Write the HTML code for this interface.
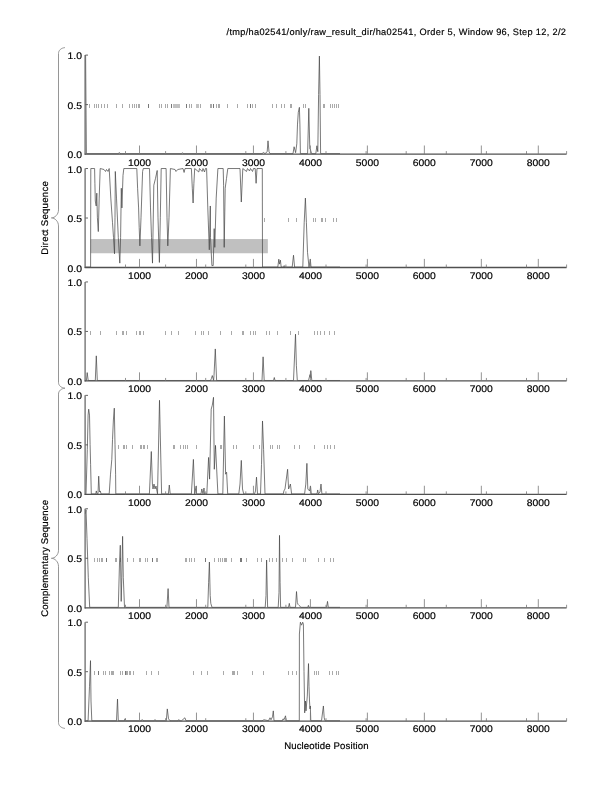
<!DOCTYPE html>
<html><head><meta charset="utf-8"><title>Nucleotide plot</title>
<style>
html,body{margin:0;padding:0;background:#fff;}
svg{display:block;}
text{font-family:"Liberation Sans",Arial,sans-serif;fill:#000;stroke:#000;stroke-width:0.18px;text-rendering:geometricPrecision;}
.t{font-size:9.6px;}
</style></head><body>
<svg width="612" height="792" viewBox="0 0 612 792">
<rect width="612" height="792" fill="#fff"/>
<text x="226.5" y="35.4" font-size="9.2" letter-spacing="0.326" id="title">/tmp/ha02541/only/raw_result_dir/ha02541, Order 5, Window 96, Step 12, 2/2</text>
<rect x="90.6" y="239.05" width="177.25" height="14.2" fill="#c0c0c0"/>
<path d="M89.5 104v4M94.5 104v4M96.5 104v4M98.5 104v4M101.5 104v4M104.5 104v4M107.5 104v4M116.5 104v4M122.5 104v4M129.5 104v4M132.5 104v4M134.5 104v4M136.5 104v4M138.5 104v4M139.5 104v4M159.5 104v4M161.5 104v4M165.5 104v4M167.5 104v4M189.5 104v4M191.5 104v4M200.5 104v4M210.5 104v4M211.5 104v4M216.5 104v4M218.5 104v4M219.5 104v4M227.5 104v4M237.5 104v4M247.5 104v4M252.5 104v4M255.5 104v4M272.5 104v4M276.5 104v4M281.5 104v4M284.5 104v4M290.5 104v4M291.5 104v4M303.5 104v4M305.5 104v4M323.5 104v4M324.5 104v4M330.5 104v4M332.5 104v4M334.5 104v4M336.5 104v4M338.5 104v4" stroke="#aaa" stroke-width="1" fill="none"/>
<path d="M173.5 104v4M174.5 104v4M175.5 104v4M176.5 104v4M177.5 104v4M178.5 104v4M179.5 104v4M196.5 104v4M197.5 104v4M198.5 104v4" stroke="#c2c2c2" stroke-width="1" fill="none"/>
<path d="M148.5 104v4M171.5 104v4M186.5 104v4M213.5 104v4M250.5 104v4" stroke="#777" stroke-width="1" fill="none"/>
<path d="M85.6 55.1 L86.4 153.65 L118.6 153.65 L119.3 152.47 L120 153.65 L181.8 153.65 L182.5 152.66 L183.2 153.65 L262 153.65 L263.5 152.47 L265 153.65 L267.2 151.68 L268 140.84 L269 151.68 L270 153.65 L293 153.65 L294.1 146.75 L295.6 152.66 L296.8 143.8 L297.5 124.09 L298.3 112.26 L299.4 107.33 L299.9 124.09 L300.4 153.65 L307.6 153.65 L308.8 108.32 L309.8 148.72 L310.3 149.22 L311.6 153.65 L315.8 153.65 L316.9 145.77 L317.8 151.68 L318.6 94.52 L319.4 56.09 L320 94.52 L320.6 153.65 L340 153.65" stroke="#464646" stroke-width="0.72" fill="none" stroke-linejoin="round"/>
<path d="M85.1 55.1V154.7" stroke="#6a6a6a" stroke-width="1.3" fill="none"/>
<path d="M84.7 154.1H566.6" stroke="#505050" stroke-width="1.3" fill="none"/>
<path d="M85.4 55.1h2.6M85.4 104.6h2.6" stroke="#555" stroke-width="0.9"/>
<path d="M139.5 154.1v-8.6M196.47 154.1v-8.6M253.44 154.1v-8.6M310.41 154.1v-8.6M367.38 154.1v-8.6M424.36 154.1v-8.6M481.33 154.1v-8.6M538.3 154.1v-8.6" stroke="#777" stroke-width="0.8"/>
<path d="M125.5 154.1v-3M165.6 154.1v-3M205.7 154.1v-3M245.8 154.1v-3M285.9 154.1v-3M326 154.1v-3M366.1 154.1v-3M406.2 154.1v-3M446.3 154.1v-3M486.4 154.1v-3M526.5 154.1v-3M566.6 154.1v-3" stroke="#777" stroke-width="0.8"/>
<text class="t" transform="translate(82 59.1) scale(1.08 1)" text-anchor="end">1.0</text>
<text class="t" transform="translate(82 108.6) scale(1.08 1)" text-anchor="end">0.5</text>
<text class="t" transform="translate(82 158.1) scale(1.08 1)" text-anchor="end">0.0</text>
<text class="t" transform="translate(139.5 165.8) scale(1.08 1)" text-anchor="middle">1000</text>
<text class="t" transform="translate(196.47 165.8) scale(1.08 1)" text-anchor="middle">2000</text>
<text class="t" transform="translate(253.44 165.8) scale(1.08 1)" text-anchor="middle">3000</text>
<text class="t" transform="translate(310.41 165.8) scale(1.08 1)" text-anchor="middle">4000</text>
<text class="t" transform="translate(367.38 165.8) scale(1.08 1)" text-anchor="middle">5000</text>
<text class="t" transform="translate(424.36 165.8) scale(1.08 1)" text-anchor="middle">6000</text>
<text class="t" transform="translate(481.33 165.8) scale(1.08 1)" text-anchor="middle">7000</text>
<text class="t" transform="translate(538.3 165.8) scale(1.08 1)" text-anchor="middle">8000</text>
<path d="M264.5 218v4M288.5 218v4M296.5 218v4M313.5 218v4M315.5 218v4M321.5 218v4M322.5 218v4M325.5 218v4M333.5 218v4M336.5 218v4" stroke="#aaa" stroke-width="1" fill="none"/>
<path d="M85.4 267.07 L90.6 267.07 L90.8 168.52 L94.6 168.52 L94.9 183.3 L95.3 201.04 L96.2 205.97 L96.8 193.16 L97.4 217.79 L98.3 231.59 L99.2 198.08 L100.2 168.52 L104 169.51 L105.5 171.48 L106.5 169.51 L108 171.48 L109.2 168.52 L110.8 198.08 L112.5 222.72 L113.5 237.5 L114.5 253.77 L115 217.79 L115.3 171.48 L116.5 198.08 L118.3 237.5 L119.8 263.13 L120.6 237.5 L121.3 188.23 L121.9 207.94 L123 175.42 L123.8 168.52 L136.8 168.52 L137.6 188.23 L138.6 207.94 L139.2 227.65 L139.9 245.88 L141 217.79 L142.6 171.48 L143.3 168.52 L149.5 168.52 L150.5 207.94 L151.5 237.5 L152.5 263.13 L153.8 185.27 L155.5 178.38 L157.2 170.49 L158 217.79 L159.4 262.44 L160.3 217.79 L161.2 168.52 L166.1 168.52 L167 217.79 L167.8 245.88 L169 217.79 L170.4 168.52 L175 169.51 L176 171.48 L177.7 169.51 L183 168.52 L184.1 172.46 L185 168.52 L191.4 168.52 L192.3 188.23 L193.1 203.01 L193.9 183.3 L194.7 168.52 L198.8 171.97 L199.5 168.52 L202.1 171.48 L203 168.52 L204.5 171.97 L205.5 168.52 L206.6 168.52 L207.8 207.94 L209.3 249.82 L210.3 205.97 L210.5 237.5 L211.9 265.59 L213.2 265.59 L214.2 228.64 L214.8 247.36 L216.2 198.08 L217.9 168.52 L223.2 168.52 L223.6 185.27 L224.2 247.36 L225.2 188.23 L226.5 178.38 L227.8 168.52 L240 168.52 L241.3 202.03 L242.8 168.52 L246.5 171.48 L247.5 168.52 L249.5 170.98 L250.5 168.52 L252.5 171.48 L253.5 168.52 L255.2 168.52 L256.1 183.3 L257 168.52 L262.3 168.52 L262.5 267.07 L277.8 267.07 L278.8 259.19 L279.5 264.11 L280.4 260.17 L281.2 267.07 L283.5 267.07 L284.2 265.59 L285 267.07 L292.2 267.07 L293.5 255.24 L294.6 267.07 L302.8 267.07 L304.2 222.72 L305.4 198.08 L306.4 222.72 L307.5 252.29 L309 267.07 L310.3 259.19 L311 267.07 L340 267.07" stroke="#464646" stroke-width="0.72" fill="none" stroke-linejoin="round"/>
<path d="M85.1 168.52V268.12" stroke="#6a6a6a" stroke-width="1.3" fill="none"/>
<path d="M84.7 267.52H566.6" stroke="#505050" stroke-width="1.3" fill="none"/>
<path d="M85.4 168.52h2.6M85.4 218.02h2.6" stroke="#555" stroke-width="0.9"/>
<path d="M139.5 267.52v-8.6M196.47 267.52v-8.6M253.44 267.52v-8.6M310.41 267.52v-8.6M367.38 267.52v-8.6M424.36 267.52v-8.6M481.33 267.52v-8.6M538.3 267.52v-8.6" stroke="#777" stroke-width="0.8"/>
<path d="M125.5 267.52v-3M165.6 267.52v-3M205.7 267.52v-3M245.8 267.52v-3M285.9 267.52v-3M326 267.52v-3M366.1 267.52v-3M406.2 267.52v-3M446.3 267.52v-3M486.4 267.52v-3M526.5 267.52v-3M566.6 267.52v-3" stroke="#777" stroke-width="0.8"/>
<text class="t" transform="translate(82 172.52) scale(1.08 1)" text-anchor="end">1.0</text>
<text class="t" transform="translate(82 222.02) scale(1.08 1)" text-anchor="end">0.5</text>
<text class="t" transform="translate(82 271.52) scale(1.08 1)" text-anchor="end">0.0</text>
<text class="t" transform="translate(139.5 279.04) scale(1.08 1)" text-anchor="middle">1000</text>
<text class="t" transform="translate(196.47 279.04) scale(1.08 1)" text-anchor="middle">2000</text>
<text class="t" transform="translate(253.44 279.04) scale(1.08 1)" text-anchor="middle">3000</text>
<text class="t" transform="translate(310.41 279.04) scale(1.08 1)" text-anchor="middle">4000</text>
<text class="t" transform="translate(367.38 279.04) scale(1.08 1)" text-anchor="middle">5000</text>
<text class="t" transform="translate(424.36 279.04) scale(1.08 1)" text-anchor="middle">6000</text>
<text class="t" transform="translate(481.33 279.04) scale(1.08 1)" text-anchor="middle">7000</text>
<text class="t" transform="translate(538.3 279.04) scale(1.08 1)" text-anchor="middle">8000</text>
<path d="M90.5 331v4M100.5 331v4M116.5 331v4M122.5 331v4M123.5 331v4M126.5 331v4M136.5 331v4M139.5 331v4M140.5 331v4M143.5 331v4M165.5 331v4M171.5 331v4M178.5 331v4M195.5 331v4M201.5 331v4M203.5 331v4M208.5 331v4M220.5 331v4M231.5 331v4M242.5 331v4M243.5 331v4M250.5 331v4M253.5 331v4M255.5 331v4M266.5 331v4M269.5 331v4M277.5 331v4M290.5 331v4M298.5 331v4M314.5 331v4M317.5 331v4M320.5 331v4M324.5 331v4M329.5 331v4M334.5 331v4" stroke="#aaa" stroke-width="1" fill="none"/>
<path d="M85.4 380.49 L86.4 380.49 L87.2 372.61 L88.2 380.49 L95.3 380.49 L96.3 355.85 L97.3 380.49 L210.5 380.49 L211.4 378.52 L212.3 375.56 L213.6 380.49 L214 375.56 L215.3 348.95 L216.6 380.49 L262 380.49 L263.1 356.84 L264.2 380.49 L273.5 380.49 L274.3 377.53 L275 380.49 L293.5 380.49 L295.5 334.17 L296.4 365.71 L297.3 380.49 L308.5 380.49 L310 374.58 L310.5 377.53 L310.8 370.63 L311.8 380.49 L340 380.49" stroke="#464646" stroke-width="0.72" fill="none" stroke-linejoin="round"/>
<path d="M85.1 281.94V381.54" stroke="#6a6a6a" stroke-width="1.3" fill="none"/>
<path d="M84.7 380.94H566.6" stroke="#505050" stroke-width="1.3" fill="none"/>
<path d="M85.4 281.94h2.6M85.4 331.44h2.6" stroke="#555" stroke-width="0.9"/>
<path d="M139.5 380.94v-8.6M196.47 380.94v-8.6M253.44 380.94v-8.6M310.41 380.94v-8.6M367.38 380.94v-8.6M424.36 380.94v-8.6M481.33 380.94v-8.6M538.3 380.94v-8.6" stroke="#777" stroke-width="0.8"/>
<path d="M125.5 380.94v-3M165.6 380.94v-3M205.7 380.94v-3M245.8 380.94v-3M285.9 380.94v-3M326 380.94v-3M366.1 380.94v-3M406.2 380.94v-3M446.3 380.94v-3M486.4 380.94v-3M526.5 380.94v-3M566.6 380.94v-3" stroke="#777" stroke-width="0.8"/>
<text class="t" transform="translate(82 285.94) scale(1.08 1)" text-anchor="end">1.0</text>
<text class="t" transform="translate(82 335.44) scale(1.08 1)" text-anchor="end">0.5</text>
<text class="t" transform="translate(82 384.94) scale(1.08 1)" text-anchor="end">0.0</text>
<text class="t" transform="translate(139.5 392.28) scale(1.08 1)" text-anchor="middle">1000</text>
<text class="t" transform="translate(196.47 392.28) scale(1.08 1)" text-anchor="middle">2000</text>
<text class="t" transform="translate(253.44 392.28) scale(1.08 1)" text-anchor="middle">3000</text>
<text class="t" transform="translate(310.41 392.28) scale(1.08 1)" text-anchor="middle">4000</text>
<text class="t" transform="translate(367.38 392.28) scale(1.08 1)" text-anchor="middle">5000</text>
<text class="t" transform="translate(424.36 392.28) scale(1.08 1)" text-anchor="middle">6000</text>
<text class="t" transform="translate(481.33 392.28) scale(1.08 1)" text-anchor="middle">7000</text>
<text class="t" transform="translate(538.3 392.28) scale(1.08 1)" text-anchor="middle">8000</text>
<path d="M118.5 445v4M123.5 445v4M124.5 445v4M126.5 445v4M132.5 445v4M140.5 445v4M141.5 445v4M143.5 445v4M144.5 445v4M147.5 445v4M173.5 445v4M174.5 445v4M180.5 445v4M183.5 445v4M185.5 445v4M187.5 445v4M196.5 445v4M215.5 445v4M220.5 445v4M221.5 445v4M233.5 445v4M236.5 445v4M253.5 445v4M259.5 445v4M270.5 445v4M272.5 445v4M277.5 445v4M279.5 445v4M294.5 445v4M299.5 445v4M314.5 445v4M324.5 445v4M327.5 445v4M330.5 445v4M334.5 445v4" stroke="#aaa" stroke-width="1" fill="none"/>
<path d="M85.4 493.91 L86 493.91 L87.3 449.56 L88.1 415.07 L88.7 409.16 L89.5 415.07 L90.1 444.64 L90.6 464.35 L91.3 493.91 L95.8 493.91 L96.3 490.95 L97 493.91 L98 493.91 L98.7 476.17 L99.5 491.94 L100.3 490.95 L101 493.91 L109.2 493.91 L110.5 474.2 L111.8 459.42 L112.5 439.71 L113.4 420 L114.3 408.17 L115 444.64 L115.6 474.2 L115.8 493.91 L149.4 493.91 L151.3 451.53 L152.4 484.06 L153 488.98 L154 484.06 L155 488.98 L156 486.03 L157.5 493.91 L159.5 400.29 L161.6 493.91 L168.4 493.91 L169.3 485.04 L170.2 493.91 L191.4 493.91 L193.4 459.42 L194.7 493.91 L196.2 486.03 L196.5 493.91 L201 493.91 L201.8 488.98 L203 493.91 L204 488 L204.5 493.91 L206.8 493.91 L208.6 457.45 L209.6 479.13 L211.2 409.16 L212.3 405.22 L213.5 397.33 L214.3 469.27 L215.5 445.62 L217.9 493.91 L222.8 493.91 L224.4 416.06 L225.6 474.2 L226.6 472.23 L227.7 493.91 L238.8 493.91 L240 484.06 L241.3 460.4 L242.5 488.98 L243.7 493.91 L254.5 493.91 L255.5 490.95 L256.5 477.16 L257.5 493.91 L260.5 493.91 L261.5 464.35 L262.5 420.98 L263.6 449.56 L265 493.91 L283.3 493.91 L283.9 490.95 L285 488.98 L287.6 469.27 L288.6 488.98 L289.8 486.03 L290.4 484.06 L291.6 493.91 L304.6 493.91 L305.8 484.06 L306.9 463.36 L307.8 488.98 L309.5 490.95 L310.5 486.03 L311.3 493.91 L317 493.91 L317.7 489.97 L318.4 493.91 L320 491.94 L321 484.06 L321.9 493.91 L340 493.91" stroke="#464646" stroke-width="0.72" fill="none" stroke-linejoin="round"/>
<path d="M85.1 395.36V494.96" stroke="#6a6a6a" stroke-width="1.3" fill="none"/>
<path d="M84.7 494.36H566.6" stroke="#505050" stroke-width="1.3" fill="none"/>
<path d="M85.4 395.36h2.6M85.4 444.86h2.6" stroke="#555" stroke-width="0.9"/>
<path d="M139.5 494.36v-8.6M196.47 494.36v-8.6M253.44 494.36v-8.6M310.41 494.36v-8.6M367.38 494.36v-8.6M424.36 494.36v-8.6M481.33 494.36v-8.6M538.3 494.36v-8.6" stroke="#777" stroke-width="0.8"/>
<path d="M125.5 494.36v-3M165.6 494.36v-3M205.7 494.36v-3M245.8 494.36v-3M285.9 494.36v-3M326 494.36v-3M366.1 494.36v-3M406.2 494.36v-3M446.3 494.36v-3M486.4 494.36v-3M526.5 494.36v-3M566.6 494.36v-3" stroke="#777" stroke-width="0.8"/>
<text class="t" transform="translate(82 399.36) scale(1.08 1)" text-anchor="end">1.0</text>
<text class="t" transform="translate(82 448.86) scale(1.08 1)" text-anchor="end">0.5</text>
<text class="t" transform="translate(82 498.36) scale(1.08 1)" text-anchor="end">0.0</text>
<text class="t" transform="translate(139.5 505.52) scale(1.08 1)" text-anchor="middle">1000</text>
<text class="t" transform="translate(196.47 505.52) scale(1.08 1)" text-anchor="middle">2000</text>
<text class="t" transform="translate(253.44 505.52) scale(1.08 1)" text-anchor="middle">3000</text>
<text class="t" transform="translate(310.41 505.52) scale(1.08 1)" text-anchor="middle">4000</text>
<text class="t" transform="translate(367.38 505.52) scale(1.08 1)" text-anchor="middle">5000</text>
<text class="t" transform="translate(424.36 505.52) scale(1.08 1)" text-anchor="middle">6000</text>
<text class="t" transform="translate(481.33 505.52) scale(1.08 1)" text-anchor="middle">7000</text>
<text class="t" transform="translate(538.3 505.52) scale(1.08 1)" text-anchor="middle">8000</text>
<path d="M94.5 558v4M97.5 558v4M99.5 558v4M101.5 558v4M102.5 558v4M115.5 558v4M116.5 558v4M120.5 558v4M127.5 558v4M133.5 558v4M139.5 558v4M140.5 558v4M145.5 558v4M147.5 558v4M156.5 558v4M157.5 558v4M185.5 558v4M186.5 558v4M189.5 558v4M191.5 558v4M194.5 558v4M214.5 558v4M218.5 558v4M220.5 558v4M222.5 558v4M224.5 558v4M225.5 558v4M226.5 558v4M231.5 558v4M246.5 558v4M257.5 558v4M261.5 558v4M269.5 558v4M272.5 558v4M276.5 558v4M282.5 558v4M286.5 558v4M292.5 558v4M303.5 558v4M305.5 558v4M318.5 558v4M324.5 558v4M330.5 558v4M333.5 558v4" stroke="#aaa" stroke-width="1" fill="none"/>
<path d="M106.5 558v4M152.5 558v4M205.5 558v4M240.5 558v4M241.5 558v4" stroke="#777" stroke-width="1" fill="none"/>
<path d="M85.4 513.71 L86 509.77 L87 538.34 L88.3 577.76 L89.7 607.33 L118.3 607.33 L119.5 562.98 L120.3 545.24 L121.2 601.42 L121.8 577.76 L122.6 536.37 L123.3 577.76 L124.5 607.33 L166.9 607.33 L168.1 588.61 L169 607.33 L207.8 607.33 L208.6 582.69 L209.4 562 L210.2 595.5 L210.8 603.39 L212 607.33 L265.2 607.33 L266 595.5 L266.6 560.03 L267.6 607.33 L278.2 607.33 L279 592.55 L279.5 535.39 L280.1 582.69 L280.6 607.33 L288.5 607.33 L289.3 603.39 L290 607.33 L295.5 607.33 L296.5 591.56 L297.3 602.4 L298 604.37 L299 605.36 L301 607.33 L307.8 607.33 L308.4 605.36 L309 607.33 L326.6 607.33 L327.5 601.42 L328.3 607.33 L340 607.33" stroke="#464646" stroke-width="0.72" fill="none" stroke-linejoin="round"/>
<path d="M85.1 508.78V608.38" stroke="#6a6a6a" stroke-width="1.3" fill="none"/>
<path d="M84.7 607.78H566.6" stroke="#505050" stroke-width="1.3" fill="none"/>
<path d="M85.4 508.78h2.6M85.4 558.28h2.6" stroke="#555" stroke-width="0.9"/>
<path d="M139.5 607.78v-8.6M196.47 607.78v-8.6M253.44 607.78v-8.6M310.41 607.78v-8.6M367.38 607.78v-8.6M424.36 607.78v-8.6M481.33 607.78v-8.6M538.3 607.78v-8.6" stroke="#777" stroke-width="0.8"/>
<path d="M125.5 607.78v-3M165.6 607.78v-3M205.7 607.78v-3M245.8 607.78v-3M285.9 607.78v-3M326 607.78v-3M366.1 607.78v-3M406.2 607.78v-3M446.3 607.78v-3M486.4 607.78v-3M526.5 607.78v-3M566.6 607.78v-3" stroke="#777" stroke-width="0.8"/>
<text class="t" transform="translate(82 512.78) scale(1.08 1)" text-anchor="end">1.0</text>
<text class="t" transform="translate(82 562.28) scale(1.08 1)" text-anchor="end">0.5</text>
<text class="t" transform="translate(82 611.78) scale(1.08 1)" text-anchor="end">0.0</text>
<text class="t" transform="translate(139.5 618.76) scale(1.08 1)" text-anchor="middle">1000</text>
<text class="t" transform="translate(196.47 618.76) scale(1.08 1)" text-anchor="middle">2000</text>
<text class="t" transform="translate(253.44 618.76) scale(1.08 1)" text-anchor="middle">3000</text>
<text class="t" transform="translate(310.41 618.76) scale(1.08 1)" text-anchor="middle">4000</text>
<text class="t" transform="translate(367.38 618.76) scale(1.08 1)" text-anchor="middle">5000</text>
<text class="t" transform="translate(424.36 618.76) scale(1.08 1)" text-anchor="middle">6000</text>
<text class="t" transform="translate(481.33 618.76) scale(1.08 1)" text-anchor="middle">7000</text>
<text class="t" transform="translate(538.3 618.76) scale(1.08 1)" text-anchor="middle">8000</text>
<path d="M94.5 671v4M103.5 671v4M105.5 671v4M109.5 671v4M111.5 671v4M112.5 671v4M113.5 671v4M120.5 671v4M122.5 671v4M126.5 671v4M127.5 671v4M129.5 671v4M130.5 671v4M133.5 671v4M146.5 671v4M151.5 671v4M158.5 671v4M193.5 671v4M201.5 671v4M207.5 671v4M223.5 671v4M232.5 671v4M233.5 671v4M234.5 671v4M237.5 671v4M252.5 671v4M263.5 671v4M288.5 671v4M292.5 671v4M296.5 671v4M314.5 671v4M316.5 671v4M318.5 671v4M329.5 671v4M332.5 671v4M336.5 671v4M338.5 671v4" stroke="#aaa" stroke-width="1" fill="none"/>
<path d="M98.5 671v4M125.5 671v4" stroke="#777" stroke-width="1" fill="none"/>
<path d="M85.4 720.75 L88.1 720.75 L89.5 686.26 L90.5 660.63 L91 701.04 L91.8 720.75 L116.5 720.75 L117.5 699.07 L118.3 720.75 L124.5 720.75 L125 718.78 L125.5 720.75 L141.5 720.75 L142.2 719.57 L143 720.75 L154.3 720.75 L155 719.57 L155.7 720.75 L166.3 720.75 L167.3 708.92 L168.5 718.78 L170 720.75 L178.2 720.75 L178.8 719.57 L179.4 720.75 L181.5 720.75 L184.9 717.79 L186 720.75 L262 720.75 L264 719.76 L268.5 720.75 L270 717.79 L271 719.76 L272.5 716.81 L273.3 710.89 L274 720.75 L282.3 720.75 L283 718.78 L284 719.76 L285.5 715.82 L286.2 720.75 L299.3 720.75 L299.4 634.03 L300.4 622.2 L301.6 625.16 L302.7 622.2 L303.4 624.17 L304 671.48 L304.7 712.87 L305.5 701.04 L306 710.89 L306.6 704 L307.3 696.11 L308.5 663.59 L309 686.26 L309.5 701.04 L310 708.92 L310.3 705.97 L310.8 720.75 L321.5 720.75 L323.4 705.97 L324.2 717.79 L325 720.75 L340 720.75" stroke="#464646" stroke-width="0.72" fill="none" stroke-linejoin="round"/>
<path d="M85.1 622.2V721.8" stroke="#6a6a6a" stroke-width="1.3" fill="none"/>
<path d="M84.7 721.2H566.6" stroke="#505050" stroke-width="1.3" fill="none"/>
<path d="M85.4 622.2h2.6M85.4 671.7h2.6" stroke="#555" stroke-width="0.9"/>
<path d="M139.5 721.2v-8.6M196.47 721.2v-8.6M253.44 721.2v-8.6M310.41 721.2v-8.6M367.38 721.2v-8.6M424.36 721.2v-8.6M481.33 721.2v-8.6M538.3 721.2v-8.6" stroke="#777" stroke-width="0.8"/>
<path d="M125.5 721.2v-3M165.6 721.2v-3M205.7 721.2v-3M245.8 721.2v-3M285.9 721.2v-3M326 721.2v-3M366.1 721.2v-3M406.2 721.2v-3M446.3 721.2v-3M486.4 721.2v-3M526.5 721.2v-3M566.6 721.2v-3" stroke="#777" stroke-width="0.8"/>
<text class="t" transform="translate(82 626.2) scale(1.08 1)" text-anchor="end">1.0</text>
<text class="t" transform="translate(82 675.7) scale(1.08 1)" text-anchor="end">0.5</text>
<text class="t" transform="translate(82 725.2) scale(1.08 1)" text-anchor="end">0.0</text>
<text class="t" transform="translate(139.5 732) scale(1.08 1)" text-anchor="middle">1000</text>
<text class="t" transform="translate(196.47 732) scale(1.08 1)" text-anchor="middle">2000</text>
<text class="t" transform="translate(253.44 732) scale(1.08 1)" text-anchor="middle">3000</text>
<text class="t" transform="translate(310.41 732) scale(1.08 1)" text-anchor="middle">4000</text>
<text class="t" transform="translate(367.38 732) scale(1.08 1)" text-anchor="middle">5000</text>
<text class="t" transform="translate(424.36 732) scale(1.08 1)" text-anchor="middle">6000</text>
<text class="t" transform="translate(481.33 732) scale(1.08 1)" text-anchor="middle">7000</text>
<text class="t" transform="translate(538.3 732) scale(1.08 1)" text-anchor="middle">8000</text>
<path d="M64.9 47.6 C61.2 48 58.5 50.2 58.5 53.5 V209.9 C58.5 214.4 54.9 217.9 51.4 217.9 C54.9 217.9 58.5 221.4 58.5 225.9 V382.3 C58.5 385.6 61.2 387.8 64.9 388.2" stroke="#8a8a8a" stroke-width="0.9" fill="none"/>
<path d="M64.9 388.2 C61.2 388.6 58.5 390.8 58.5 394.1 V550.3 C58.5 554.8 54.9 558.3 51.4 558.3 C54.9 558.3 58.5 561.8 58.5 566.3 V722.5 C58.5 725.8 61.2 728 64.9 728.4" stroke="#8a8a8a" stroke-width="0.9" fill="none"/>
<text x="47.8" y="217.8" font-size="9.6" letter-spacing="0.28" text-anchor="middle" transform="rotate(-90 47.8 217.8)">Direc<tspan dx="-1.2">t</tspan> Sequence</text>
<text x="47.9" y="558.3" font-size="9.6" letter-spacing="0.15" text-anchor="middle" transform="rotate(-90 47.9 558.3)">Complementary Sequence</text>
<text x="326.4" y="748.9" font-size="9.6" letter-spacing="0.12" text-anchor="middle">Nucleotide Position</text>
</svg>
</body></html>
